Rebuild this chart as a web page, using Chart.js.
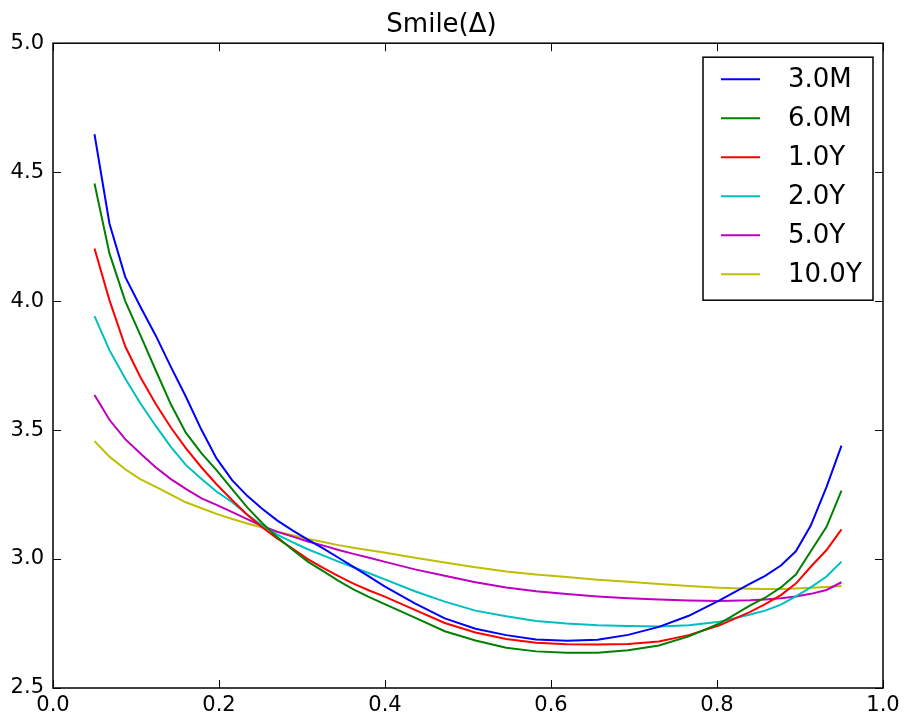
<!DOCTYPE html>
<html>
<head>
<meta charset="utf-8">
<title>Smile</title>
<script src="https://cdn.jsdelivr.net/npm/chart.js@4.4.1/dist/chart.umd.min.js"></script>
<style>
  body { margin: 0; background: #fff; }
  canvas { display: block; }
</style>
</head>
<body>
<canvas id="smileChart" width="905" height="716"></canvas>
<script>
// strike grid (delta) and vols
const deltas = [0.05, 0.068, 0.087, 0.105, 0.124, 0.142, 0.16, 0.179, 0.197, 0.216,
    0.234, 0.252, 0.27, 0.289, 0.307, 0.326, 0.344, 0.362, 0.381, 0.399,
    0.436, 0.472, 0.509, 0.546, 0.582, 0.619, 0.656, 0.693, 0.73, 0.766,
    0.803, 0.84, 0.858, 0.877, 0.895, 0.913, 0.932, 0.95];

const vol3M = [4.647, 4.301, 4.094, 3.98, 3.865, 3.745, 3.63, 3.50, 3.39, 3.305,
    3.245, 3.195, 3.15, 3.11, 3.075, 3.04, 3.005, 2.97, 2.932, 2.895,
    2.828, 2.77, 2.73, 2.705, 2.688, 2.683, 2.687, 2.706, 2.737, 2.78,
    2.84, 2.905, 2.935, 2.975, 3.03, 3.13, 3.28, 3.44];
const vol6M = [4.456, 4.185, 4.00, 3.87, 3.73, 3.60, 3.49, 3.41, 3.345, 3.27,
    3.20, 3.14, 3.085, 3.035, 2.99, 2.952, 2.915, 2.882, 2.852, 2.826,
    2.773, 2.72, 2.684, 2.656, 2.642, 2.637, 2.637, 2.646, 2.665, 2.70,
    2.75, 2.82, 2.85, 2.89, 2.94, 3.03, 3.125, 3.265];
const vol1Y = [4.204, 4.004, 3.825, 3.707, 3.60, 3.51, 3.43, 3.355, 3.29, 3.228,
    3.172, 3.123, 3.08, 3.04, 3.0, 2.965, 2.934, 2.905, 2.878, 2.855,
    2.803, 2.752, 2.715, 2.69, 2.675, 2.67, 2.669, 2.671, 2.68, 2.705,
    2.743, 2.795, 2.825, 2.86, 2.905, 2.97, 3.035, 3.115];
const vol2Y = [3.942, 3.81, 3.70, 3.605, 3.515, 3.435, 3.365, 3.31, 3.262, 3.22,
    3.172, 3.13, 3.095, 3.065, 3.038, 3.013, 2.99, 2.968, 2.945, 2.922,
    2.875, 2.835, 2.80, 2.778, 2.76, 2.75, 2.743, 2.74, 2.738, 2.743,
    2.757, 2.785, 2.80, 2.823, 2.855, 2.89, 2.932, 2.99];
const vol5Y = [3.636, 3.54, 3.465, 3.41, 3.355, 3.31, 3.272, 3.235, 3.21, 3.182,
    3.155, 3.128, 3.106, 3.087, 3.068, 3.052, 3.035, 3.02, 3.005, 2.99,
    2.96, 2.935, 2.91, 2.89, 2.875, 2.864, 2.855, 2.848, 2.843, 2.839,
    2.837, 2.84, 2.843, 2.848, 2.855, 2.865, 2.88, 2.91];
const vol10Y = [3.457, 3.397, 3.348, 3.31, 3.28, 3.25, 3.22, 3.197, 3.175, 3.155,
    3.138, 3.122, 3.106, 3.092, 3.078, 3.066, 3.054, 3.044, 3.034, 3.025,
    3.005, 2.987, 2.968, 2.952, 2.94, 2.93, 2.92, 2.912, 2.903, 2.895,
    2.889, 2.885, 2.884, 2.884, 2.886, 2.889, 2.892, 2.895];

const tenors = ["3.0M", "6.0M", "1.0Y", "2.0Y", "5.0Y", "10.0Y"];
const curves = [vol3M, vol6M, vol1Y, vol2Y, vol5Y, vol10Y];
const colors = ["#0000ff", "#008000", "#ff0000", "#00bfbf", "#bf00bf", "#bfbf00"];

const xTicks = [0, 0.2, 0.4, 0.6, 0.8, 1.0];
const yTicks = [2.5, 3.0, 3.5, 4.0, 4.5, 5.0];

const font = "'DejaVu Sans', 'Liberation Sans', sans-serif";

// matplotlib-ish frame, inward ticks and legend box
const framePlugin = {
    id: 'framePlugin',
    afterDatasetsDraw(chart) {
        const { ctx, chartArea: a, scales } = chart;
        const x = scales.x, y = scales.y;
        ctx.save();

        ctx.strokeStyle = '#000';
        ctx.lineWidth = 1;
        ctx.beginPath();
        xTicks.forEach(v => {
            const px = Math.round(x.getPixelForValue(v)) + 0.5;
            ctx.moveTo(px, a.bottom); ctx.lineTo(px, a.bottom - 8);
            ctx.moveTo(px, a.top); ctx.lineTo(px, a.top + 8);
        });
        yTicks.forEach(v => {
            const py = Math.round(y.getPixelForValue(v)) + 0.5;
            ctx.moveTo(a.left, py); ctx.lineTo(a.left + 8, py);
            ctx.moveTo(a.right, py); ctx.lineTo(a.right - 8, py);
        });
        ctx.stroke();

        ctx.lineWidth = 1.5;
        ctx.strokeRect(a.left, a.top, a.right - a.left, a.bottom - a.top);

        // legend
        const boxW = 170, rowH = 39;
        const bx = a.right - 10 - boxW, by = a.top + 14;
        const bh = rowH * chart.data.datasets.length + 9;
        ctx.fillStyle = '#fff';
        ctx.fillRect(bx, by, boxW, bh);
        ctx.strokeRect(bx, by, boxW, bh);
        ctx.font = '26px ' + font;
        ctx.textBaseline = 'middle';
        ctx.textAlign = 'left';
        chart.data.datasets.forEach((ds, i) => {
            const cy = by + 22 + i * rowH;
            ctx.strokeStyle = ds.borderColor;
            ctx.lineWidth = 2;
            ctx.beginPath();
            ctx.moveTo(bx + 18, cy); ctx.lineTo(bx + 57, cy);
            ctx.stroke();
            ctx.fillStyle = '#000';
            ctx.fillText(ds.label, bx + 85, cy + 1);
        });
        ctx.restore();
    }
};

const ctx = document.getElementById('smileChart').getContext('2d');
new Chart(ctx, {
    type: 'line',
    data: {
        datasets: tenors.map((t, i) => ({
            label: t,
            data: deltas.map((d, j) => ({ x: d, y: curves[i][j] })),
            borderColor: colors[i],
            backgroundColor: colors[i],
            borderWidth: 2,
            pointRadius: 0,
            tension: 0,
            fill: false,
        })),
    },
    options: {
        responsive: false,
        animation: false,
        devicePixelRatio: 1,
        layout: { padding: { left: 0, right: 22, top: 0, bottom: 0 } },
        plugins: {
            legend: { display: false },
            tooltip: { enabled: false },
            title: {
                display: true,
                text: 'Smile(\u0394)',
                color: '#000',
                font: { family: font, size: 26, weight: 'normal', lineHeight: 1.2 },
                padding: { top: 10, bottom: 2 },
            },
        },
        scales: {
            x: {
                type: 'linear',
                min: 0,
                max: 1,
                afterFit: s => { s.height = 28; },
                afterBuildTicks: s => { s.ticks = xTicks.map(v => ({ value: v })); },
                grid: { display: false, drawTicks: false },
                border: { display: false },
                ticks: {
                    autoSkip: false,
                    maxRotation: 0,
                    padding: 5,
                    color: '#000',
                    font: { family: font, size: 21 },
                    callback: v => v.toFixed(1),
                },
            },
            y: {
                type: 'linear',
                min: 2.5,
                max: 5,
                afterFit: s => { s.width = 53; },
                afterBuildTicks: s => { s.ticks = yTicks.map(v => ({ value: v })); },
                grid: { display: false, drawTicks: false },
                border: { display: false },
                ticks: {
                    autoSkip: false,
                    padding: 9,
                    color: '#000',
                    font: { family: font, size: 21 },
                    callback: v => v.toFixed(1),
                },
            },
        },
    },
    plugins: [framePlugin],
});
</script>
</body>
</html>
